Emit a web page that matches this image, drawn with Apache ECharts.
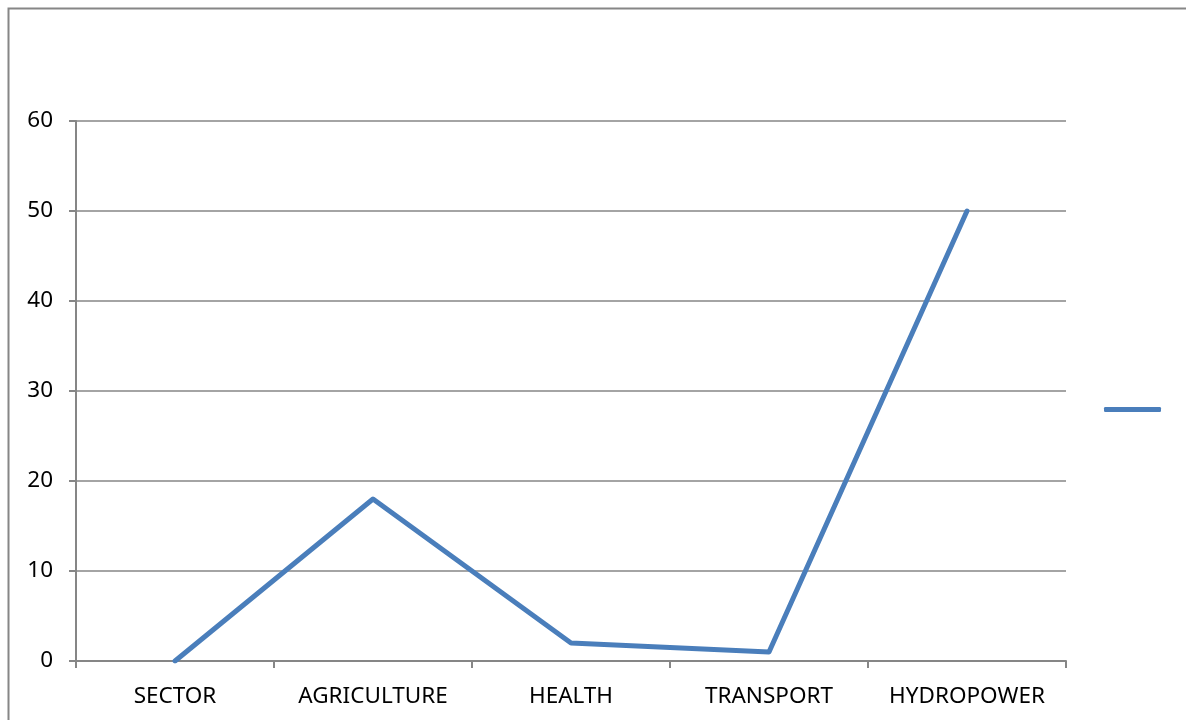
<!DOCTYPE html>
<html>
<head>
<meta charset="utf-8">
<script src="https://cdn.jsdelivr.net/npm/echarts@6/dist/echarts.min.js"></script>
<style>
  html, body { margin: 0; padding: 0; background: #ffffff; }
  #chart { width: 1186px; height: 720px; }
</style>
</head>
<body>
<div id="chart"></div>
<script>
// Sector values plotted as a single line series
const categories = ['SECTOR', 'AGRICULTURE', 'HEALTH', 'TRANSPORT', 'HYDROPOWER'];
const values = [0, 18, 2, 1, 50];
const seriesName = ' ';

const axisGrey = '#868686';
const lineBlue = '#4a7ebb';
const labelFont = { color: '#000000', fontSize: 22.5, fontFamily: 'Noto Sans' };

const chart = echarts.init(document.getElementById('chart'), null, { renderer: 'canvas' });

chart.setOption({
  animation: false,
  backgroundColor: '#ffffff',
  graphic: [{
    type: 'rect',
    shape: { x: 8.5, y: 8.5, width: 1200, height: 760 },
    style: { fill: 'none', stroke: axisGrey, lineWidth: 2 },
    silent: true,
    z: -10
  }],
  grid: { left: 76, right: 120, top: 121, bottom: 59, containLabel: false },
  legend: {
    data: [seriesName],
    orient: 'vertical',
    left: 1104,
    top: 407,
    padding: 0,
    icon: 'roundRect',
    itemWidth: 57,
    itemHeight: 5,
    itemGap: 0,
    textStyle: { fontSize: 1, color: 'rgba(0,0,0,0)' },
    selectedMode: false
  },
  xAxis: {
    type: 'category',
    data: categories,
    boundaryGap: true,
    axisLine: { show: true, lineStyle: { color: axisGrey, width: 2 } },
    axisTick: { show: true, alignWithLabel: false, length: 7, lineStyle: { color: axisGrey, width: 2 } },
    axisLabel: Object.assign({ margin: 24, interval: 0 }, labelFont),
    splitLine: { show: false }
  },
  yAxis: {
    type: 'value',
    min: 0,
    max: 60,
    interval: 10,
    axisLine: { show: true, lineStyle: { color: axisGrey, width: 2 } },
    axisTick: { show: true, length: 7, lineStyle: { color: axisGrey, width: 2 } },
    axisLabel: Object.assign({ margin: 23 }, labelFont),
    splitLine: { show: true, lineStyle: { color: axisGrey, width: 1.5 } }
  },
  series: [{
    name: seriesName,
    type: 'line',
    data: values,
    symbol: 'none',
    lineStyle: { color: lineBlue, width: 5, cap: 'round', join: 'round' },
    itemStyle: { color: lineBlue }
  }]
});
</script>
</body>
</html>
